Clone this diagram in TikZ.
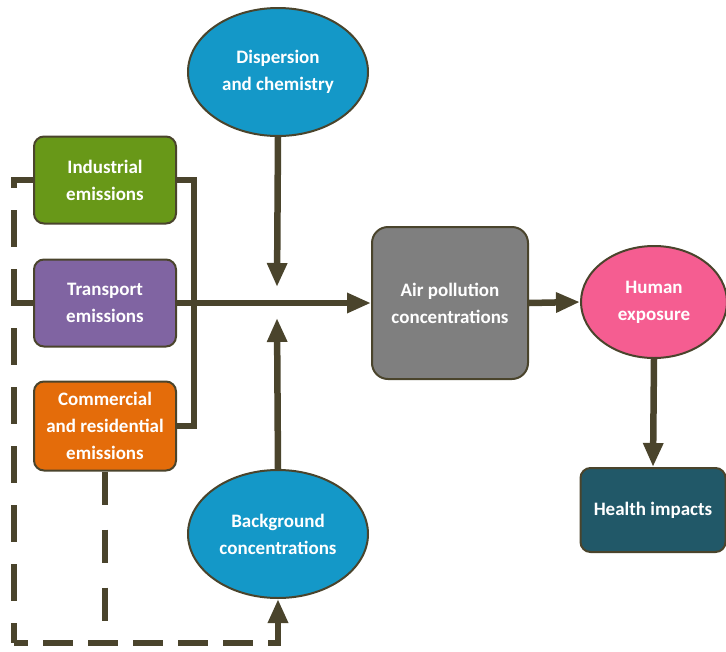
\documentclass[tikz,border=0pt]{standalone}
\usepackage{fontspec}
\setmainfont{Carlito}
\usetikzlibrary{shapes.geometric,arrows.meta,positioning}
\definecolor{linebrown}{RGB}{74,68,44}
\definecolor{indgreen}{RGB}{104,152,24}
\definecolor{trapurple}{RGB}{128,100,162}
\definecolor{comorange}{RGB}{228,108,10}
\definecolor{airgray}{RGB}{127,127,127}
\definecolor{ovalblue}{RGB}{20,152,200}
\definecolor{humpink}{RGB}{245,93,145}
\definecolor{heateal}{RGB}{33,88,104}

\begin{document}
\begin{tikzpicture}[x=1pt,y=-1pt,
    label/.style={text=white,align=center,inner sep=2pt,
      font=\bfseries\fontsize{19}{27}\selectfont},
    box/.style={label,draw=linebrown,line width=2pt,rounded corners=10pt,
      minimum width=142pt,minimum height=87pt},
    oval/.style={label,ellipse,draw=linebrown,line width=2pt},
    flow/.style={linebrown,line width=6.5pt},
    tip/.style={-{Triangle[length=24pt,width=19pt]}},
    arr/.style={flow,tip}]
    \useasboundingbox (0,0) rectangle (726,651);
    % sources
    \node[box,fill=indgreen] (ind) at (105,180) {Industrial\\emissions};
    \node[box,fill=trapurple] (tra) at (105,303) {Transport\\emissions};
    \node[box,fill=comorange,minimum height=89pt] (com) at (105,426) {Commercial\\and residential\\emissions};
    % ellipses and outcome boxes
    \node[oval,fill=ovalblue,minimum width=180pt,minimum height=128pt] (dis) at (278,72) {Dispersion\\and chemistry};
    \node[oval,fill=ovalblue,minimum width=180pt,minimum height=128pt] (bg) at (278,534) {Background\\concentrations};
    \node[box,fill=airgray,rounded corners=16pt,minimum width=156pt,minimum height=152pt] (air) at (450,303) {Air pollution\\concentrations};
    \node[oval,fill=humpink,minimum width=146pt,minimum height=112pt] (hum) at (654,302) {Human\\exposure};
    \node[box,fill=heateal,minimum width=145pt,minimum height=84pt] (hea) at (653,510) {Health impacts};
    % helper points
    \coordinate (bus) at (194,303);
    \coordinate (mixtop) at (277,287);
    \coordinate (mixbot) at (277,318);
    \coordinate (dl) at (14,643);
    \coordinate (comend) at (105,621);
    % connectors
    \draw[flow] (ind.east) -| (bus |- com.east) -- (com.east);
    \draw[arr] (tra.east) -- (air.west);
    \draw[arr] (dis.south) -- (mixtop);
    \draw[arr] (bg.north) -- (mixbot);
    \draw[arr] (air.east) -- (hum.west);
    \draw[arr] (hum.south) -- (hea.north);
    \draw[flow] (tra.west) -- (tra.west -| dl);
    % dashed return path
    \draw[flow,dash pattern=on 37pt off 22pt,dash phase=10pt] (ind.west) -| (dl);
    \draw[flow,tip,dash pattern=on 30pt off 15pt,dash phase=16pt] (dl) -| (bg.south);
    \draw[flow,dash pattern=on 33pt off 25pt] (com.south) -- (comend);
\end{tikzpicture}
\end{document}
